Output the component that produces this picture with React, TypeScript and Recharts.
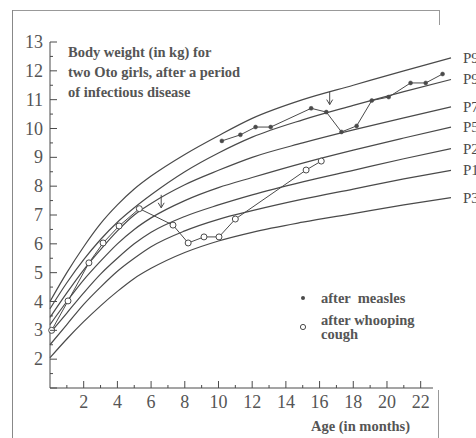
import { ComposedChart, Line, XAxis, YAxis, Scatter, ReferenceLine, LabelList } from 'recharts'

// percentile curves, read at these ages (months)
const months = [0, 1, 2, 3, 4, 5, 6, 8, 10, 12, 15, 18, 21, 23.8]
const p97 = [4.0, 5.0, 5.9, 6.7, 7.35, 7.9, 8.35, 9.1, 9.75, 10.35, 11.0, 11.5, 12.0, 12.45]
const p90 = [3.75, 4.65, 5.45, 6.15, 6.75, 7.25, 7.7, 8.5, 9.15, 9.7, 10.3, 10.8, 11.28, 11.7]
const p75 = [3.45, 4.3, 5.1, 5.8, 6.45, 7.0, 7.4, 8.05, 8.55, 9.0, 9.5, 9.95, 10.37, 10.75]
const p50 = [3.2, 4.0, 4.75, 5.4, 6.0, 6.5, 6.9, 7.5, 7.95, 8.3, 8.8, 9.25, 9.67, 10.05]
const p25 = [2.9, 3.6, 4.3, 4.95, 5.5, 6.0, 6.4, 6.95, 7.35, 7.7, 8.15, 8.55, 8.95, 9.3]
const p10 = [2.5, 3.2, 3.9, 4.5, 5.05, 5.5, 5.9, 6.45, 6.85, 7.15, 7.55, 7.9, 8.25, 8.55]
const p3 = [2.05, 2.7, 3.3, 3.85, 4.35, 4.8, 5.15, 5.7, 6.1, 6.4, 6.75, 7.05, 7.35, 7.6]

const percentileKeys = ['p97', 'p90', 'p75', 'p50', 'p25', 'p10', 'p3']
const percentileNames = ['P97', 'P90', 'P75', 'P50', 'P25', 'P10', 'P3']

// girl 1, after measles
const measlesAge = [10.2, 11.3, 12.2, 13.1, 15.5, 16.4, 17.3, 18.2, 19.1, 20.1, 21.4, 22.3, 23.3]
const measlesKg = [9.57, 9.78, 10.05, 10.05, 10.7, 10.57, 9.88, 10.09, 10.97, 11.09, 11.58, 11.58, 11.89]

// girl 2, after whooping cough
const whoopAge = [0.1, 1.07, 2.31, 3.15, 4.1, 5.3, 7.3, 8.2, 9.14, 10.03, 11.0, 15.2, 16.1]
const whoopKg = [3.0, 4.02, 5.34, 6.03, 6.62, 7.22, 6.65, 6.03, 6.24, 6.24, 6.86, 8.56, 8.87]

// onset of disease (arrows)
const arrowAge = [6.6, 16.6]
const arrowKg = [7.7, 11.28]

const xTicks = [1, 2, 3, 4, 5, 6, 7, 8, 9, 10, 11, 12, 13, 14, 15, 16, 17, 18, 19, 20, 21, 22]
const yTicks = [1, 1.5, 2, 2.5, 3, 3.5, 4, 4.5, 5, 5.5, 6, 6.5, 7, 7.5, 8, 8.5, 9, 9.5, 10, 10.5, 11, 11.5, 12, 12.5, 13]

const curveData = months.map((m, i) => ({
  m,
  p97: p97[i],
  p90: p90[i],
  p75: p75[i],
  p50: p50[i],
  p25: p25[i],
  p10: p10[i],
  p3: p3[i],
}))
const measlesData = measlesAge.map((m, i) => ({ m, kg: measlesKg[i] }))
const whoopData = whoopAge.map((m, i) => ({ m, kg: whoopKg[i] }))
const arrowData = arrowAge.map((m, i) => ({ m, kg: arrowKg[i] }))

const INK = '#4a4a4a'
const SERIF = '"Liberation Serif", "DejaVu Serif", serif'

const XTick = ({ x, y, payload }: any) => {
  const major = payload.value % 2 === 0
  return (
    <g>
      <line x1={x} x2={x} y1={y} y2={y - (major ? 7 : 3)} stroke={INK} strokeWidth={1} />
      {major && (
        <text x={x} y={y + 20} textAnchor="middle" fontSize={18} fontFamily={SERIF} fill="#555">
          {payload.value}
        </text>
      )}
    </g>
  )
}

const YTick = ({ x, y, payload }: any) => {
  const major = Number.isInteger(payload.value)
  return (
    <g>
      <line x1={x} x2={x + (major ? 7 : 3)} y1={y} y2={y} stroke={INK} strokeWidth={1} />
      {major && payload.value > 1 && (
        <text x={x - 7} y={y + 6} textAnchor="end" fontSize={18} fontFamily={SERIF} fill="#555">
          {payload.value}
        </text>
      )}
    </g>
  )
}

// percentile name just right of each curve's end
const endLabel = (name: string) => (props: any) => {
  const { x, y, index } = props
  if (index !== months.length - 1) return null
  return (
    <text x={x + 12} y={y + 5} fontSize={15} fontFamily={SERIF} fill={INK}>
      {name}
    </text>
  )
}

const Arrow = ({ cx, cy }: any) => (
  <g stroke={INK} strokeWidth={1} fill="none">
    <line x1={cx} x2={cx} y1={cy} y2={cy + 13} />
    <polyline points={`${cx - 3},${cy + 8} ${cx},${cy + 13} ${cx + 3},${cy + 8}`} />
  </g>
)

const text: React.CSSProperties = {
  position: 'absolute',
  fontFamily: SERIF,
  fontWeight: 'bold',
  fontSize: 14.5,
  color: '#555',
  whiteSpace: 'pre',
  lineHeight: '20px',
}

export default function App() {
  return (
    <div style={{ position: 'absolute', left: 0, top: 0, width: 476, height: 438, overflow: 'hidden', background: '#fff' }}>
      {/* frame */}
      <div style={{ position: 'absolute', left: 12, top: 10, width: 428, height: 1, background: '#999' }} />
      <div style={{ position: 'absolute', left: 12, top: 10, width: 1, height: 428, background: '#888' }} />
      <div style={{ position: 'absolute', left: 439, top: 10, width: 1, height: 15, background: '#999' }} />
      <div style={{ position: 'absolute', left: 438, top: 390, width: 1, height: 48, background: '#999' }} />

      <ComposedChart
        width={476}
        height={438}
        data={curveData}
        margin={{ top: 42, right: 25, bottom: 0, left: 0 }}
        style={{ position: 'absolute', left: 0, top: 0, overflow: 'visible' }}
      >
        <XAxis
          type="number"
          dataKey="m"
          domain={[0, 23.8]}
          ticks={xTicks}
          interval={0}
          height={50}
          axisLine={false}
          tickLine={false}
          tickSize={0}
          tickMargin={0}
          tick={<XTick />}
          allowDuplicatedCategory={false}
        />
        <YAxis
          type="number"
          domain={[1, 13]}
          ticks={yTicks}
          interval={0}
          width={50}
          axisLine={{ stroke: INK, strokeWidth: 1 }}
          tickLine={false}
          tickSize={0}
          tickMargin={0}
          tick={<YTick />}
        />
        <ReferenceLine
          segment={[{ x: 0, y: 1 }, { x: 22.73, y: 1 }]}
          stroke={INK}
          strokeWidth={1}
          ifOverflow="visible"
        />
        {percentileKeys.map((k, i) => (
          <Line
            key={k}
            type="monotone"
            dataKey={k}
            stroke={INK}
            strokeWidth={1.2}
            dot={false}
            activeDot={false}
            isAnimationActive={false}
          >
            <LabelList dataKey={k} content={endLabel(percentileNames[i])} />
          </Line>
        ))}
        <Line
          data={measlesData}
          dataKey="kg"
          type="linear"
          stroke={INK}
          strokeWidth={1}
          dot={{ r: 2, fill: INK, stroke: INK, strokeWidth: 0.5 }}
          activeDot={false}
          isAnimationActive={false}
        />
        <Line
          data={whoopData}
          dataKey="kg"
          type="linear"
          stroke={INK}
          strokeWidth={1}
          dot={{ r: 3, fill: '#fff', stroke: INK, strokeWidth: 1 }}
          activeDot={false}
          isAnimationActive={false}
        />
        <Scatter data={arrowData} dataKey="kg" shape={<Arrow />} isAnimationActive={false} />
      </ComposedChart>

      {/* title */}
      <div style={{ ...text, left: 68, top: 42 }}>
        {'Body weight (in kg) for\ntwo Oto girls, after a period\nof infectious disease'}
      </div>

      {/* legend */}
      <svg style={{ position: 'absolute', left: 296, top: 290 }} width={16} height={44}>
        <circle cx={7} cy={8} r={2} fill={INK} />
        <circle cx={7} cy={37} r={2.6} fill="#fff" stroke={INK} strokeWidth={1} />
      </svg>
      <div style={{ ...text, left: 321, top: 288 }}>{'after  measles'}</div>
      <div style={{ ...text, left: 321, top: 313, lineHeight: '14px' }}>{'after whooping\ncough'}</div>

      {/* axis title */}
      <div style={{ ...text, left: 311, top: 416 }}>{'Age (in months)'}</div>
    </div>
  )
}
